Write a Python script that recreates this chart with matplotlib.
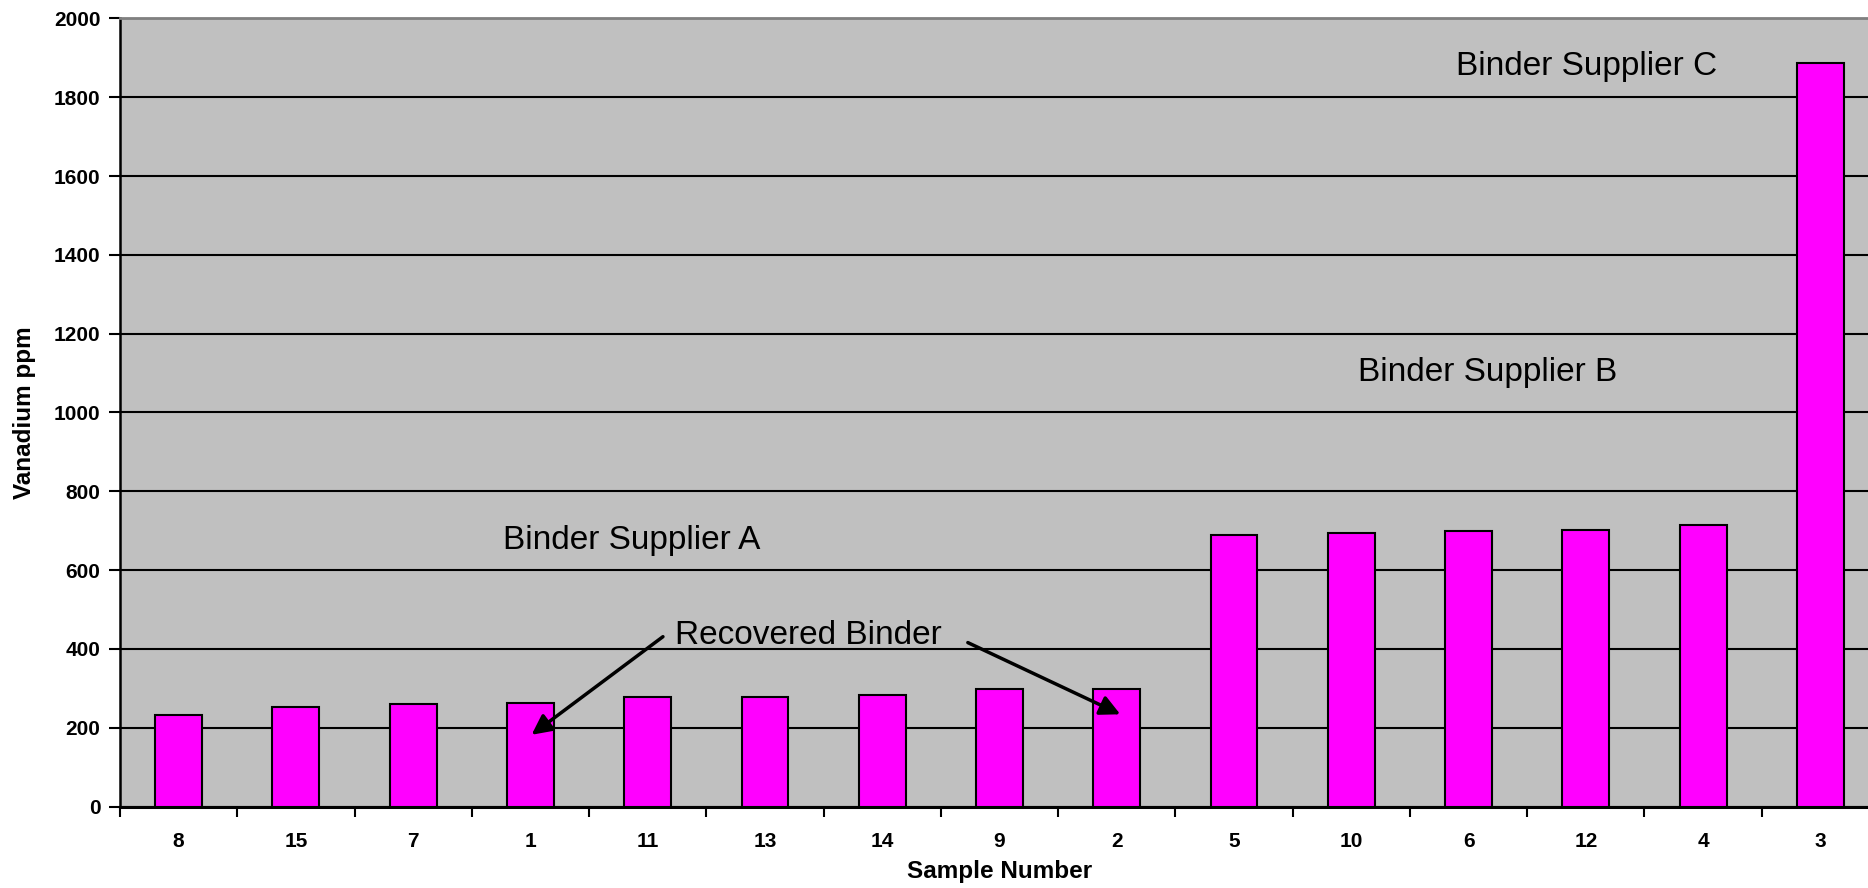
import matplotlib
matplotlib.use("Agg")
import matplotlib.pyplot as plt
import numpy as np

# Vanadium content by sample, sorted ascending
samples = ["8", "15", "7", "1", "11", "13", "14", "9", "2", "5", "10", "6", "12", "4", "3"]
vanadium_ppm = [233, 253, 260, 263, 278, 278, 282, 298, 298, 690, 695, 698, 702, 715, 1888]

y_ticks = [0, 200, 400, 600, 800, 1000, 1200, 1400, 1600, 1800, 2000]

# Group labels (text, x position in category units, baseline y in ppm)
group_labels = [
    ("Binder Supplier A", 3.86, 654),
    ("Binder Supplier B", 11.16, 1079),
    ("Binder Supplier C", 12.01, 1857),
]
recovered_label = ("Recovered Binder", 5.37, 413)
# arrows: (tail x, tail y, head x, head y)
recovered_arrows = [
    (4.13, 431, 3.01, 182),
    (6.73, 416, 8.03, 234),
]

label_font = ["Liberation Sans", "DejaVu Sans"]
tick_font = ["Liberation Sans", "DejaVu Sans"]

fig = plt.figure(figsize=(18.68, 8.88), dpi=100)
ax = fig.add_axes([120 / 1868, 81.5 / 888, 1759 / 1868, 788 / 888])
ax.set_facecolor("#C0C0C0")

x = np.arange(len(samples))
ax.set_axisbelow(True)
ax.yaxis.grid(True, color="black", linewidth=1.5)
ax.bar(x, vanadium_ppm, width=0.4, color="#FF00FF", edgecolor="black",
       linewidth=1.5, zorder=3)

ax.set_xlim(-0.5, len(samples) - 0.5)
ax.set_ylim(0, 2000)
ax.set_yticks(y_ticks)
ax.set_yticklabels([str(v) for v in y_ticks], fontfamily=tick_font,
                   fontweight="bold", fontsize=15)
ax.set_xticks(x)
ax.set_xticklabels(samples, fontfamily=tick_font, fontweight="bold", fontsize=15)
ax.set_xticks(np.arange(-0.5, len(samples), 1.0), minor=True)
ax.tick_params(axis="x", which="major", length=0, pad=18)
ax.tick_params(axis="x", which="minor", length=7, width=1.5, direction="out")
ax.tick_params(axis="y", which="major", length=8, width=1.5, direction="out", pad=6)

for side in ["left", "bottom"]:
    ax.spines[side].set_color("black")
ax.spines["left"].set_linewidth(1.8)
ax.spines["bottom"].set_linewidth(2.2)
ax.spines["top"].set_color("#808080")
ax.spines["top"].set_linewidth(2)
ax.spines["right"].set_visible(False)

ax.set_xlabel("Sample Number", fontfamily=tick_font, fontweight="bold",
              fontsize=17.5, labelpad=7)
ax.set_ylabel("Vanadium ppm", fontfamily=tick_font, fontweight="bold",
              fontsize=17.5, labelpad=13)

for text, gx, gy in group_labels:
    ax.text(gx, gy, text, fontfamily=label_font, fontsize=24,
            ha="center", va="baseline", zorder=5)

rtext, rx, ry = recovered_label
ax.text(rx, ry, rtext, fontfamily=label_font, fontsize=24,
        ha="center", va="baseline", zorder=5)
for tx, ty, hx, hy in recovered_arrows:
    ax.annotate("", xy=(hx, hy), xytext=(tx, ty),
                arrowprops=dict(arrowstyle="-|>", color="black", lw=2.5,
                                mutation_scale=30, shrinkA=0, shrinkB=0),
                zorder=6)

fig.savefig("out.png", dpi=100, facecolor="white")
